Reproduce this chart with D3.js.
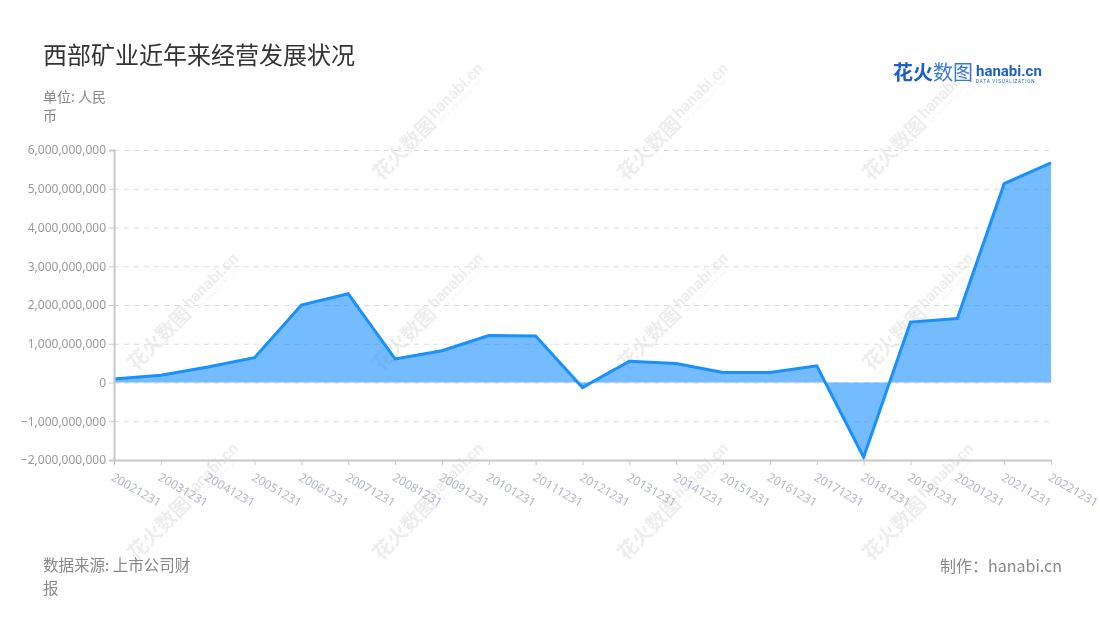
<!DOCTYPE html>
<html><head><meta charset="utf-8">
<script src="https://cdn.jsdelivr.net/npm/d3@7/dist/d3.min.js"></script>
<style>
body{margin:0;background:#fff;}
svg{display:block;font-family:"Noto Sans CJK SC","Noto Sans",sans-serif;}
</style></head>
<body>
<svg id="chart" width="1100" height="620"></svg>
<script>
const categories = ["20021231","20031231","20041231","20051231","20061231","20071231","20081231","20091231","20101231","20111231","20121231","20131231","20141231","20151231","20161231","20171231","20181231","20191231","20201231","20211231","20221231"];
const values = [0.09e9,0.19e9,0.40e9,0.64e9,2.0e9,2.29e9,0.61e9,0.82e9,1.21e9,1.20e9,-0.13e9,0.55e9,0.49e9,0.26e9,0.26e9,0.43e9,-1.93e9,1.56e9,1.65e9,5.13e9,5.67e9];
const yTicks = [-2e9,-1e9,0,1e9,2e9,3e9,4e9,5e9,6e9];

const svg = d3.select("#chart");
const pLeft = 114, pRight = 1051, pTop = 150, pBottom = 460;
const x = d3.scalePoint().domain(categories).range([pLeft, pRight]);
const y = d3.scaleLinear().domain([-2e9, 6e9]).range([pBottom, pTop]);

// watermarks
const wmPos = [[429,122],[674,122],[919,122],[184,312],[429,312],[674,312],[919,312],[184,502],[429,502],[674,502],[919,502]];
const wm = svg.append("g").attr("opacity",0.09);
wmPos.forEach(p=>{
  const g = wm.append("g").attr("transform",`translate(${p[0]},${p[1]}) rotate(-45)`);
  g.append("text").attr("x",-76).attr("y",8).attr("font-size",20).attr("font-weight",700).attr("fill","#333").text("花火数图");
  g.append("text").attr("x",6).attr("y",2).attr("font-size",16).attr("font-weight",700).attr("fill","#333").attr("font-family","Roboto,sans-serif").text("hanabi.cn");
  g.append("text").attr("x",8).attr("y",9).attr("font-size",4.5).attr("fill","#333").attr("font-family","Roboto,sans-serif").attr("letter-spacing",0.8).text("DATA VISUALIZATION");
});

// grid
svg.append("g").selectAll("line").data(yTicks).join("line")
  .attr("x1",pLeft).attr("x2",pRight).attr("y1",d=>y(d)+0.5).attr("y2",d=>y(d)+0.5)
  .attr("stroke","#dcdcdc").attr("stroke-dasharray","5,5").attr("stroke-width",1);

// area
const area = d3.area().x((d,i)=>x(categories[i])).y0(y(0)).y1(d=>y(d));
svg.append("path").datum(values).attr("d",area).attr("fill","#1890ff").attr("fill-opacity",0.6);
const line = d3.line().x((d,i)=>x(categories[i])).y(d=>y(d));
svg.append("path").datum(values).attr("d",line).attr("fill","none").attr("stroke","#1890ff").attr("stroke-width",3).attr("stroke-linejoin","miter");

// y axis
const yAxis = svg.append("g").attr("transform",`translate(${pLeft},0)`)
  .call(d3.axisLeft(y).tickValues(yTicks).tickFormat(d3.format(",")).tickSize(5).tickPadding(3));
yAxis.select(".domain").attr("stroke","#c8c8c8").attr("stroke-width",2);
yAxis.selectAll(".tick line").attr("stroke","#c8c8c8");
yAxis.selectAll(".tick text").attr("fill","#999").attr("font-size",12).attr("font-family","'Noto Sans',sans-serif");

// x axis
const xAxis = svg.append("g").attr("transform",`translate(0,${pBottom})`)
  .call(d3.axisBottom(x).tickSize(5).tickSizeOuter(0));
xAxis.select(".domain").attr("stroke","#c8c8c8").attr("stroke-width",2);
xAxis.selectAll(".tick line").attr("stroke","#c8c8c8");
xAxis.selectAll(".tick text").attr("fill","#b4b8c6").attr("font-size",12)
  .attr("font-family","'Noto Sans',sans-serif")
  .attr("text-anchor","start").attr("transform","translate(-2,16) rotate(30)").attr("dy","0.35em").attr("y",0);

// title
svg.append("text").attr("x",43).attr("y",64).attr("font-size",24).attr("fill","#333").text("西部矿业近年来经营发展状况");
svg.append("text").attr("x",43).attr("y",102).attr("font-size",14).attr("fill","#888").text("单位: 人民");
svg.append("text").attr("x",43).attr("y",121).attr("font-size",14).attr("fill","#888").text("币");

// logo
svg.append("text").attr("x",893).attr("y",80).attr("font-size",20).attr("font-weight",700).attr("fill","#1e5fc8").text("花火");
svg.append("text").attr("x",933).attr("y",80).attr("font-size",20).attr("fill","#3a78d8").text("数图");
svg.append("text").attr("x",976).attr("y",76).attr("font-size",15).attr("font-weight",700).attr("fill","#1e5fc8").attr("font-family","Roboto,sans-serif").text("hanabi.cn");
svg.append("text").attr("x",976).attr("y",82.5).attr("font-size",4.6).attr("fill","#1e5fc8").attr("font-family","Roboto,sans-serif").attr("letter-spacing",0.8).text("DATA VISUALIZATION");

// footer
svg.append("text").attr("x",43).attr("y",571).attr("font-size",15.5).attr("fill","#888").text("数据来源: 上市公司财");
svg.append("text").attr("x",43).attr("y",594).attr("font-size",15.5).attr("fill","#888").text("报");
svg.append("text").attr("x",1062).attr("y",572).attr("font-size",16).attr("fill","#888").attr("text-anchor","end").text("制作：hanabi.cn");
</script>
</body></html>
